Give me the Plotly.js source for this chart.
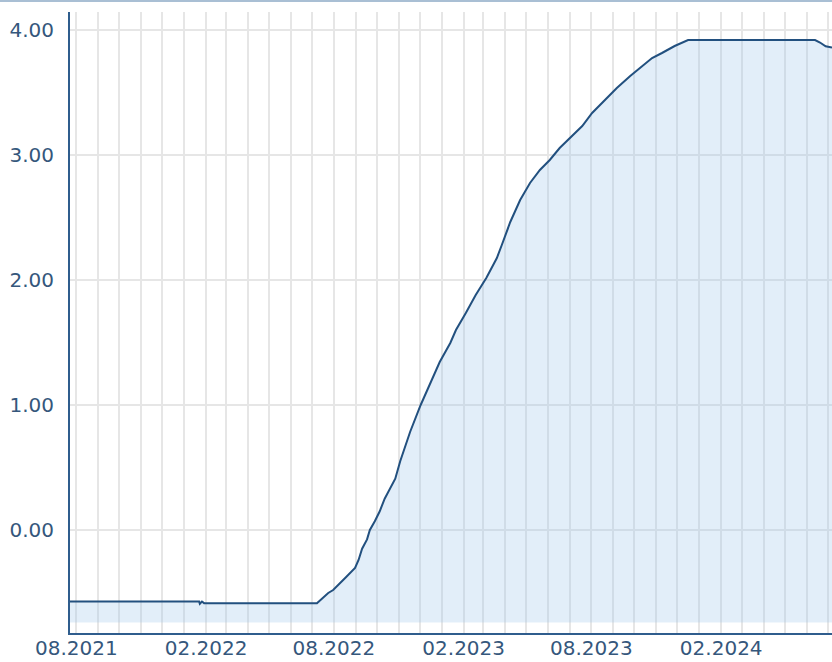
<!DOCTYPE html>
<html>
<head>
<meta charset="utf-8">
<script src="https://cdn.plot.ly/plotly-3.0.1.min.js"></script>
<style>
  html, body { margin: 0; padding: 0; background: #ffffff; }
  #wrap { position: relative; width: 832px; height: 662px; }
  #topline { position: absolute; left: 0; top: 0; width: 832px; height: 2px; background: #a9bfd4; z-index: 5; }
  #chart { width: 832px; height: 662px; }
</style>
</head>
<body>
<div id="wrap">
  <div id="topline"></div>
  <div id="chart"></div>
</div>
<script>
// Dates of the readings
const dates = [
  '2021-07-23', '2022-01-22', '2022-01-23', '2022-01-26', '2022-01-29',
  '2022-07-08', '2022-07-24', '2022-07-31', '2022-08-17', '2022-08-24',
  '2022-08-31', '2022-09-05', '2022-09-10', '2022-09-17', '2022-09-21',
  '2022-09-28', '2022-10-05', '2022-10-12', '2022-10-20', '2022-10-27',
  '2022-11-03', '2022-11-17', '2022-12-02', '2022-12-15', '2022-12-29',
  '2023-01-13', '2023-01-21', '2023-02-04', '2023-02-18', '2023-03-05',
  '2023-03-20', '2023-03-27', '2023-04-08', '2023-04-22', '2023-05-06',
  '2023-05-20', '2023-06-03', '2023-06-17', '2023-07-02', '2023-07-19',
  '2023-08-02', '2023-08-20', '2023-09-06', '2023-09-25', '2023-10-13',
  '2023-10-26', '2023-11-09', '2023-11-27', '2023-12-16', '2024-06-13',
  '2024-06-20', '2024-06-28', '2024-07-07'
];
// Rate values (%)
const rates = [
  -0.572, -0.572, -0.590, -0.572, -0.585,
  -0.586, -0.504, -0.480, -0.384, -0.344,
  -0.304, -0.240, -0.150, -0.075, 0.000,
  0.070, 0.150, 0.250, 0.330, 0.410,
  0.550, 0.784, 1.000, 1.160, 1.344,
  1.496, 1.600, 1.736, 1.880, 2.016,
  2.176, 2.280, 2.464, 2.640, 2.776,
  2.880, 2.960, 3.056, 3.136, 3.232,
  3.336, 3.440, 3.536, 3.632, 3.712,
  3.776, 3.816, 3.872, 3.920, 3.920,
  3.900, 3.870, 3.860
];
// Lower edge of the shaded area
const fillBase = -0.74;
const baseDates = ['2021-07-23', '2024-07-07'];
const baseValues = [fillBase, fillBase];
// Axis settings
const xRange = ['2021-07-23', '2024-07-07'];
const yRange = [-0.824, 4.144];
const yTicks = [0, 1, 2, 3, 4];

const gridColor = '#e6e6e6';
const axisColor = '#2f5d8d';
const textColor = '#35577c';
const fontFam = 'DejaVu Sans, Verdana, sans-serif';

const traces = [
  {
    x: baseDates, y: baseValues, type: 'scatter', mode: 'lines',
    line: { width: 0 }, hoverinfo: 'skip', showlegend: false
  },
  {
    x: dates, y: rates, type: 'scatter', mode: 'lines',
    line: { color: '#22507f', width: 2 },
    fill: 'tonexty', fillcolor: 'rgba(158,198,235,0.3)',
    showlegend: false
  }
];

const layout = {
  width: 832, height: 662,
  margin: { l: 70, r: 0, t: 12, b: 29, pad: 0 },
  paper_bgcolor: '#ffffff', plot_bgcolor: '#ffffff',
  font: { family: fontFam, size: 20, color: textColor },
  showlegend: false,
  xaxis: {
    type: 'date', range: xRange,
    tick0: '2021-08-01', dtick: 'M6', tickformat: '%m.%Y',
    ticks: '', showgrid: true, gridcolor: gridColor, gridwidth: 2,
    minor: { dtick: 'M1', showgrid: true, gridcolor: gridColor, gridwidth: 2 },
    showline: true, linecolor: axisColor, linewidth: 2,
    zeroline: false, tickfont: { family: fontFam, size: 20, color: textColor },
    ticklabelstandoff: -4
  },
  yaxis: {
    range: yRange, tickvals: yTicks, tickformat: '.2f',
    ticks: '', showgrid: true, gridcolor: gridColor, gridwidth: 2,
    showline: true, linecolor: axisColor, linewidth: 2,
    zeroline: false, tickfont: { family: fontFam, size: 20, color: textColor },
    ticklabelstandoff: 10
  }
};

Plotly.newPlot('chart', traces, layout, { displayModeBar: false, staticPlot: true });
</script>
</body>
</html>
